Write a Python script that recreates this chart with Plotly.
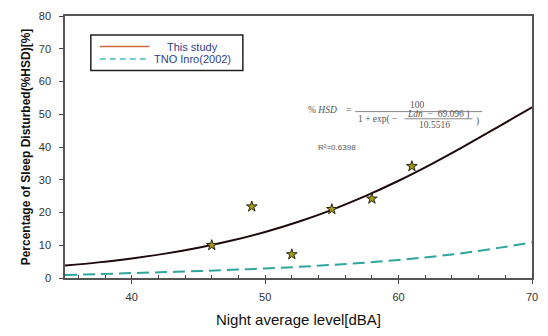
import plotly.graph_objects as go

# ---- data ----
night_level_grid = [35, 37.5, 40, 42.5, 45, 47.5, 50, 52.5, 55, 57.5, 60, 62.5, 65, 67.5, 70]
this_study_fit = [3.80, 4.77, 5.97, 7.44, 9.25, 11.44, 14.07, 17.18, 20.82, 24.99, 29.69, 34.86, 40.42, 46.23, 52.14]
tno_inro_2002 = [0.9, 1.2, 1.5, 1.8, 2.1, 2.5, 2.9, 3.4, 4.0, 4.7, 5.5, 6.5, 7.7, 9.2, 10.9]
observed_level = [46, 49, 52, 55, 58, 61]
observed_hsd = [10.0, 21.8, 7.2, 21.0, 24.2, 34.1]
legend_labels = ["This study", "TNO Inro(2002)"]
x_ticks = [40, 50, 60, 70]
y_ticks = [0, 10, 20, 30, 40, 50, 60, 70, 80]

W, H = 548, 336
ML, MR, MT, MB = 65, 13, 10, 52
PW, PH = W - ML - MR, H - MT - MB


def px(x):
    return (x - ML) / PW


def py(y):
    return (H - MB - y) / PH


fig = go.Figure()
fig.add_trace(go.Scatter(x=night_level_grid, y=tno_inro_2002, mode="lines",
                         line=dict(color="#2fa59c", width=2, dash="12px,6px", shape="spline"),
                         name=legend_labels[1], showlegend=False))
fig.add_trace(go.Scatter(x=night_level_grid, y=this_study_fit, mode="lines",
                         line=dict(color="#1f0a0e", width=2, shape="spline"),
                         name=legend_labels[0], showlegend=False))
fig.add_trace(go.Scatter(x=observed_level, y=observed_hsd, mode="markers",
                         marker=dict(symbol="star", size=8, color="#a8981a",
                                     line=dict(color="#2a2a10", width=1)),
                         showlegend=False))

shapes = []
annotations = []
# custom legend box
shapes.append(dict(type="rect", xref="paper", yref="paper", x0=px(91), x1=px(244), y0=py(67), y1=py(30),
                   line=dict(color="#222", width=1.5), fillcolor="white", layer="above"))
shapes.append(dict(type="line", xref="paper", yref="paper", x0=px(100), x1=px(150), y0=py(42), y1=py(42),
                   line=dict(color="#cf6a46", width=1.5), layer="above"))
shapes.append(dict(type="line", xref="paper", yref="paper", x0=px(100), x1=px(150), y0=py(55), y1=py(55),
                   line=dict(color="#45bcb8", width=1.5, dash="6px,4px"), layer="above"))
for lab, yy in zip(legend_labels, [42, 55]):
    annotations.append(dict(text=lab, xref="paper", yref="paper", x=px(193), y=py(yy), xanchor="center",
                            yanchor="middle", showarrow=False,
                            font=dict(family="Arial, Liberation Sans", size=11, color="#2f3f8a")))

# formula
ff = dict(family="Liberation Serif, Times New Roman, serif", size=9.5, color="#555")


def txt(t, x, y, font=ff, anchor="center"):
    annotations.append(dict(text=t, xref="paper", yref="paper", x=px(x), y=py(y), xanchor=anchor,
                            yanchor="middle", showarrow=False, font=font))


txt("% <i>HSD</i>", 324, 108)
txt("=", 350, 108)
txt("100", 420, 103)
txt("1 + exp( \u2212", 380, 118)
txt("<i>Ldn</i>  \u2212  69.096 )", 440, 113)
txt("10.5516", 437, 124)
txt(")", 480, 120)
shapes.append(dict(type="line", xref="paper", yref="paper", x0=px(357), x1=px(485), y0=py(110), y1=py(110),
                   line=dict(color="#666", width=0.8)))
shapes.append(dict(type="line", xref="paper", yref="paper", x0=px(407), x1=px(475), y0=py(117.5), y1=py(117.5),
                   line=dict(color="#666", width=0.8)))
txt("R\u00b2=0.6398", 339, 148, font=dict(family="Arial, Liberation Sans", size=8, color="#555"))

axis_common = dict(showline=True, mirror=True, linecolor="#555", linewidth=1.5, showgrid=False,
                   zeroline=False, ticks="outside", ticklen=4, tickcolor="#444",
                   tickfont=dict(family="Arial, Liberation Sans", size=11, color="#333"))

fig.update_layout(
    width=W, height=H,
    margin=dict(l=ML, r=MR, t=MT, b=MB),
    paper_bgcolor="white", plot_bgcolor="white",
    shapes=shapes, annotations=annotations,
    xaxis=dict(range=[35, 70], tickvals=x_ticks,
               minor=dict(dtick=2, tick0=0, ticks="inside", ticklen=3, tickcolor="#444"),
               title=dict(text="Night average level[dBA]", standoff=13,
                          font=dict(family="Arial, Liberation Sans", size=15, color="#111")),
               ticklabelstandoff=4,
               **axis_common),
    yaxis=dict(range=[0, 80], tickvals=y_ticks, ticklabelstandoff=6,
               title=dict(text="<b>Percentage of Sleep Disturbed(%HSD)[%]</b>", standoff=6,
                          font=dict(family="Arial, Liberation Sans", size=12, color="#111")),
               **axis_common),
)

fig.write_html("out.html", config={"displayModeBar": False},
               post_script="document.body.style.margin='0';document.body.style.overflow='hidden';")
